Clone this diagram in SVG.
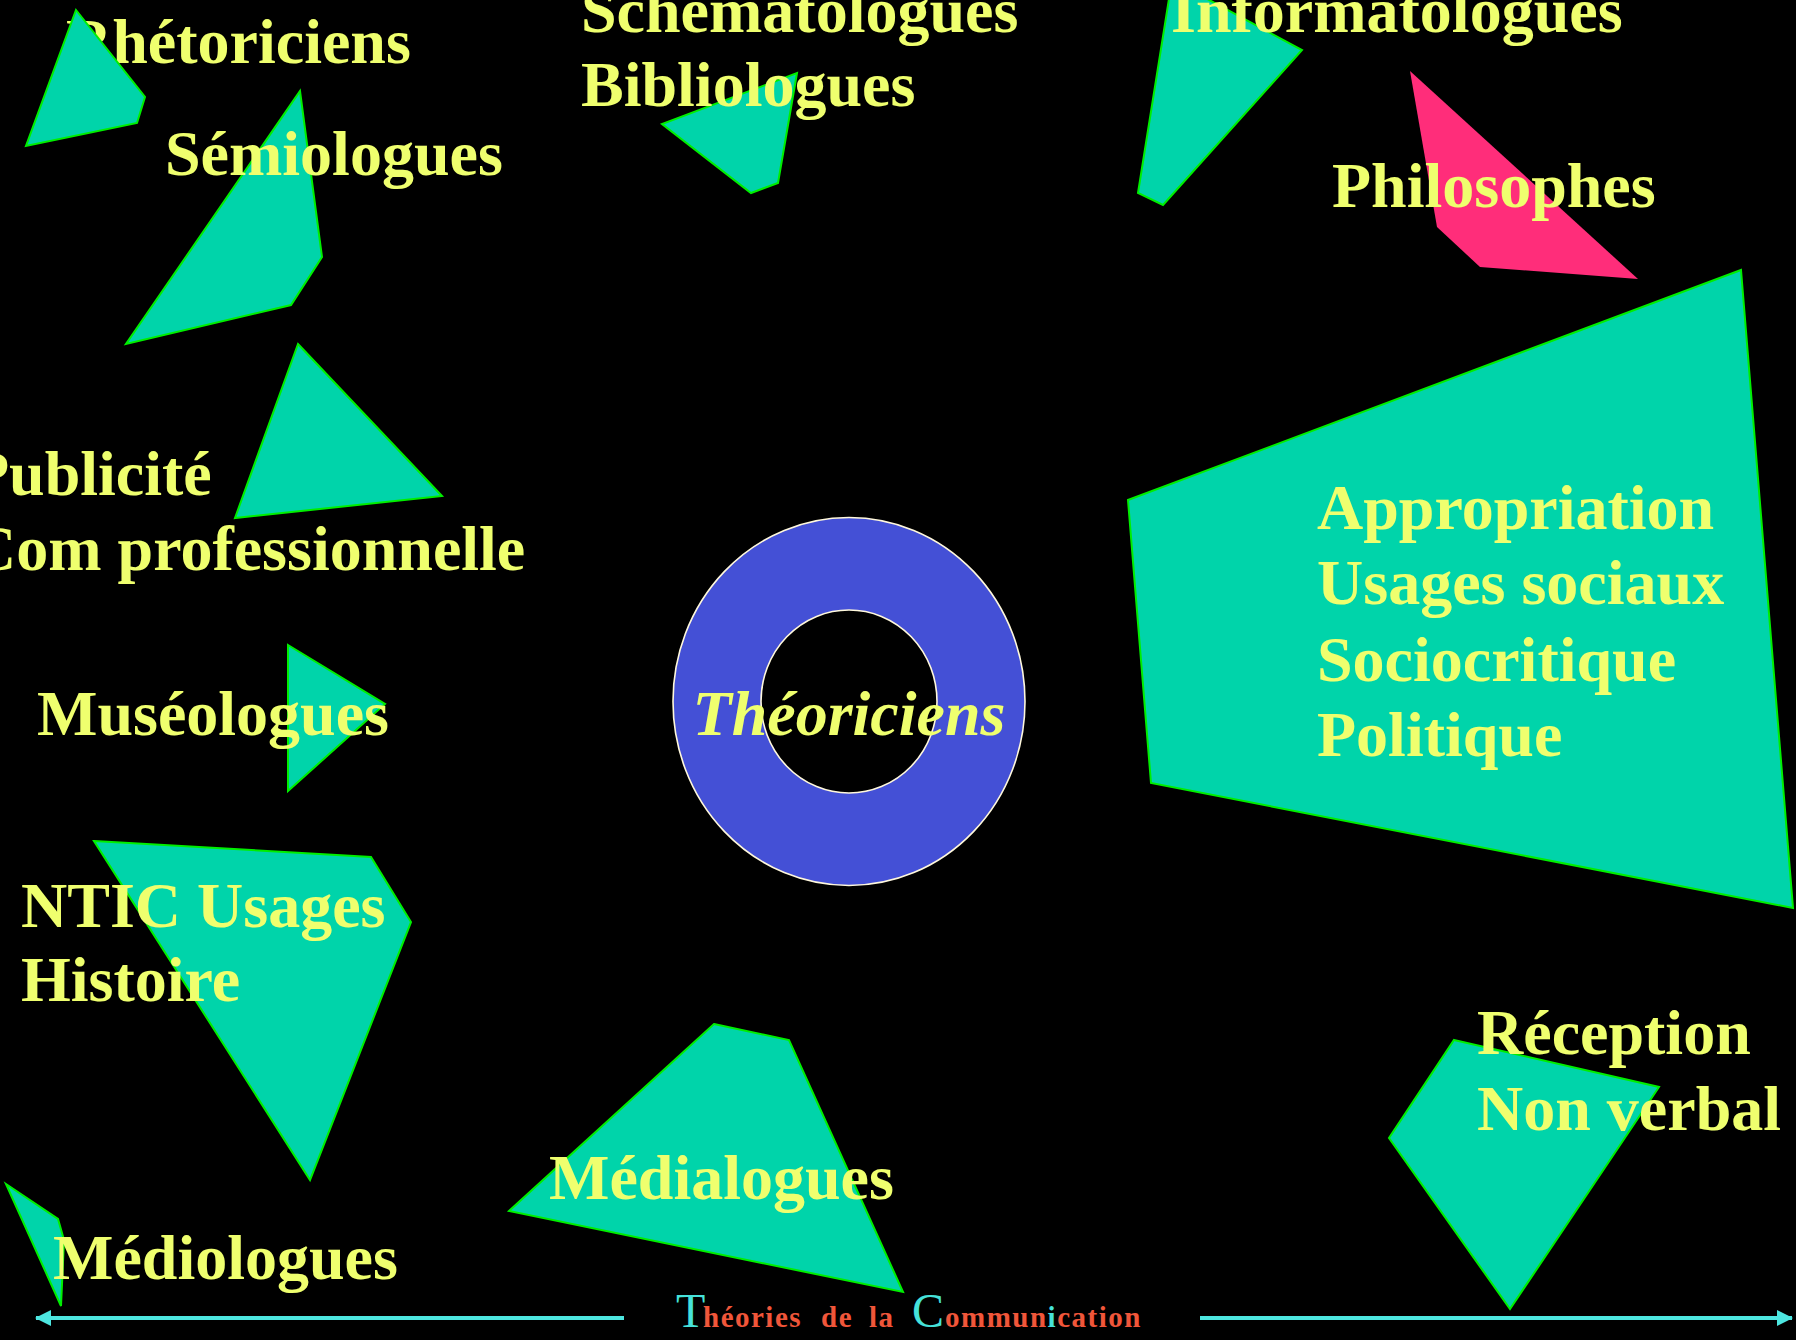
<svg xmlns="http://www.w3.org/2000/svg" width="1796" height="1340" viewBox="0 0 1796 1340">
<defs>
<style>
.shape{fill:#00d4aa;stroke:#00ee00;stroke-width:2;stroke-linejoin:miter}
.pink{fill:#ff2d7a;stroke:none}
.lbl{font-family:"Liberation Serif","Times New Roman",serif;font-weight:bold;font-size:64px;fill:#efff6e}
.ring{fill:#4450d6;stroke:#fff8dc;stroke-width:1.6;fill-rule:evenodd}
.axis{stroke:#4de6e0;stroke-width:4;fill:none}
.big{font-family:"Liberation Serif","Times New Roman",serif;font-size:48px;fill:#46e2da}
.small{font-family:"Liberation Serif","Times New Roman",serif;font-weight:bold;font-size:29px;fill:#f0563a;letter-spacing:1.5px}
</style>
<marker id="arr" viewBox="0 0 16 16" refX="15" refY="8" markerWidth="16" markerHeight="16" markerUnits="userSpaceOnUse" orient="auto">
<path d="M0,0 L16,8 L0,16 Z" fill="#4de6e0"/>
</marker>
</defs>
<rect x="0" y="0" width="1796" height="1340" fill="#000"/>

<g id="rhetoriciens">
<text class="lbl" x="66" y="63">Rhétoriciens</text>
<polygon class="shape" points="76,10 145,97 137,123 26,146"/>
</g>

<g id="semiologues">
<polygon class="shape" points="300,91 322,257 291,305 126,344"/>
<text class="lbl" x="165" y="175">Sémiologues</text>
</g>

<g id="bibliologues">
<polygon class="shape" points="797,73 778,183 751,193 662,124"/>
<text class="lbl" x="581" y="32">Schematologues</text>
<text class="lbl" x="581" y="106">Bibliologues</text>
</g>

<g id="informatologues">
<polygon class="shape" points="1172,-20 1302,50 1163,205 1138,193"/>
<text class="lbl" x="1171" y="32">Informatologues</text>
</g>

<g id="philosophes">
<polygon class="pink" points="1410,71 1638,279 1480,267 1437,227"/>
<text class="lbl" x="1332" y="207">Philosophes</text>
</g>

<g id="publicite">
<polygon class="shape" points="298,344 442,496 235,518"/>
<text class="lbl" x="-30" y="495">Publicité</text>
<text class="lbl" x="-30" y="570">Com professionnelle</text>
</g>

<g id="museologues">
<polygon class="shape" points="288,645 385,704 288,791"/>
<text class="lbl" x="37" y="735">Muséologues</text>
</g>

<g id="ntic">
<polygon class="shape" points="94,841 371,857 411,922 310,1180"/>
<text class="lbl" x="21" y="927">NTIC Usages</text>
<text class="lbl" x="21" y="1001">Histoire</text>
</g>

<g id="mediologues">
<polygon class="shape" points="6,1184 58,1219 64,1240 61,1306"/>
<text class="lbl" x="53" y="1279">Médiologues</text>
</g>

<g id="medialogues">
<polygon class="shape" points="714,1024 789,1040 903,1292 509,1211"/>
<text class="lbl" x="549" y="1199">Médialogues</text>
</g>

<g id="reception">
<polygon class="shape" points="1454,1040 1659,1087 1510,1309 1389,1138"/>
<text class="lbl" x="1477" y="1054">Réception</text>
<text class="lbl" x="1477" y="1130">Non verbal</text>
</g>

<g id="sociologie">
<polygon class="shape" points="1741,270 1793,908 1151,783 1128,500"/>
<text class="lbl" x="1317" y="529">Appropriation</text>
<text class="lbl" x="1317" y="604">Usages sociaux</text>
<text class="lbl" x="1317" y="681">Sociocritique</text>
<text class="lbl" x="1317" y="756">Politique</text>
</g>

<g id="theoriciens">
<path class="ring" d="M673,701.5 A176,184 0 1,0 1025,701.5 A176,184 0 1,0 673,701.5 Z M761,701.5 A88,91.5 0 1,0 937,701.5 A88,91.5 0 1,0 761,701.5 Z"/>
<text class="lbl" x="849" y="735" text-anchor="middle" font-style="italic">Théoriciens</text>
</g>

<g id="connectors">
<line class="axis" x1="624" y1="1318" x2="36" y2="1318" marker-end="url(#arr)"/>
<line class="axis" x1="1200" y1="1318" x2="1792" y2="1318" marker-end="url(#arr)"/>
</g>

<g id="title">
<text y="1327"><tspan class="big" x="676">T</tspan><tspan class="small" x="703">héories</tspan><tspan class="small" x="821">de</tspan><tspan class="small" x="869">la</tspan><tspan class="big" x="912">C</tspan><tspan class="small" x="945">ommun</tspan><tspan class="small" style="fill:#46e2da">i</tspan><tspan class="small">cation</tspan></text>
</g>
</svg>
